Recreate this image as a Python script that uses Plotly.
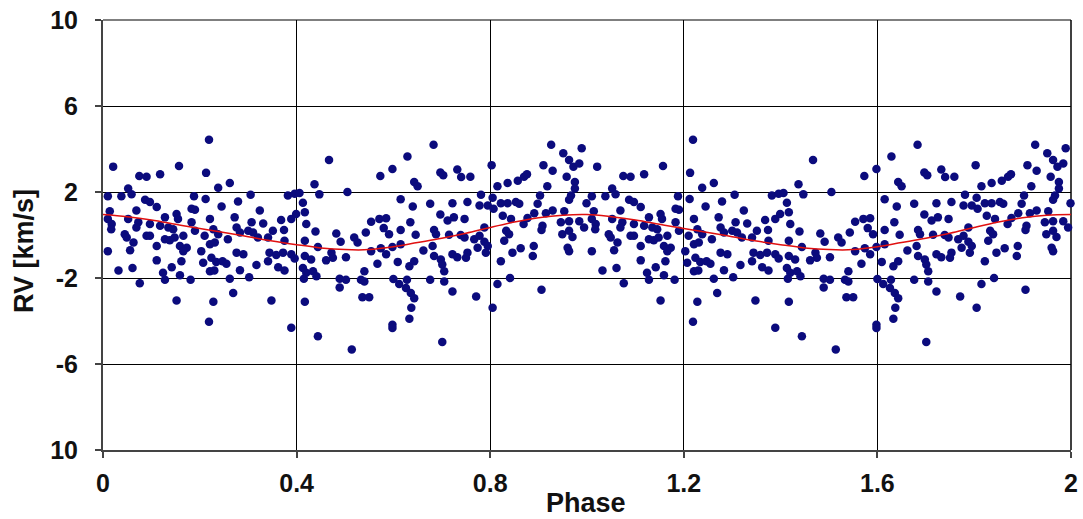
import plotly.graph_objects as go

# One cycle of phase-folded radial velocities (phase, RV km/s); plotted twice (phase and phase+1)
phase = [0.219,0.021,0.157,0.075,0.090,0.118,0.213,0.238,0.052,0.010,0.038,0.059,0.087,0.097,0.188,0.212,0.245,0.014,0.069,0.111,0.183,0.19,0.01,0.018,0.017,0.052,0.073,0.069,0.097,0.128,0.152,0.155,0.118,0.135,0.145,0.183,0.19,0.221,0.228,0.238,0.045,0.049,0.090,0.097,0.128,0.138,0.148,0.166,0.21,0.063,0.111,0.159,0.173,0.166,0.221,0.231,0.01,0.056,0.203,0.224,0.234,0.247,0.111,0.162,0.207,0.142,0.032,0.061,0.124,0.128,0.159,0.221,0.23,0.181,0.076,0.152,0.228,0.219,
         0.467,0.262,0.437,0.305,0.279,0.382,0.396,0.406,0.413,0.447,0.324,0.272,0.307,0.331,0.368,0.389,0.399,0.417,0.42,0.276,0.283,0.3,0.31,0.32,0.341,0.351,0.374,0.375,0.258,0.417,0.439,0.482,0.491,0.276,0.29,0.344,0.358,0.372,0.389,0.396,0.417,0.43,0.444,0.472,0.475,0.461,0.255,0.317,0.341,0.362,0.375,0.283,0.413,0.42,0.434,0.441,0.262,0.302,0.415,0.489,0.489,0.269,0.348,0.417,0.389,0.444,
         0.683,0.629,0.598,0.573,0.697,0.703,0.643,0.65,0.732,0.74,0.505,0.615,0.64,0.676,0.697,0.722,0.725,0.554,0.571,0.585,0.58,0.591,0.615,0.635,0.646,0.684,0.688,0.712,0.715,0.739,0.543,0.519,0.526,0.554,0.574,0.585,0.567,0.598,0.615,0.609,0.633,0.643,0.662,0.681,0.684,0.698,0.701,0.705,0.722,0.732,0.502,0.54,0.533,0.54,0.502,0.6,0.612,0.626,0.636,0.628,0.676,0.722,0.705,0.643,0.536,0.55,0.637,0.633,0.598,0.598,0.514,0.701,
         0.926,0.989,0.951,0.963,0.972,0.984,0.803,0.91,0.929,0.759,0.815,0.836,0.857,0.87,0.876,0.918,0.958,0.975,0.975,0.967,0.963,0.781,0.805,0.903,0.898,0.822,0.836,0.853,0.86,0.753,0.778,0.795,0.807,0.999,0.826,0.843,0.869,0.877,0.891,0.915,0.929,0.953,0.946,0.963,0.984,0.994,0.908,0.906,0.747,0.788,0.833,0.839,0.829,0.949,0.963,0.97,0.96,0.963,0.747,0.767,0.778,0.788,0.795,0.791,0.753,0.75,0.774,0.846,0.863,0.89,0.888,0.822,0.841,0.815,0.771,0.906,0.805]
rv = [4.43,3.18,3.21,2.74,2.71,2.83,2.89,2.2,2.16,1.8,1.8,1.9,1.64,1.53,1.8,1.67,1.33,1.1,1.14,1.3,1.22,1.17,0.75,0.51,0.27,0.75,0.59,0.35,0.51,0.82,0.98,0.75,0.43,0.35,0.27,0.59,0.2,0.75,0.27,0.04,0.04,-0.12,-0.04,-0.04,-0.2,-0.24,-0.12,-0.04,-0.04,-0.35,-0.51,-0.51,-0.59,-0.75,-0.43,-0.35,-0.75,-0.71,-0.75,-1.06,-1.25,-1.22,-1.18,-1.22,-1.29,-1.5,-1.65,-1.53,-1.76,-2.08,-1.87,-1.69,-1.65,-2.08,-2.24,-3.05,-3.1,-4.04,
      3.49,2.42,2.36,1.87,1.56,1.84,1.92,1.95,1.5,1.89,1.14,0.82,0.59,0.54,0.7,0.75,0.98,1.06,0.51,0.35,0.12,0.2,0.12,-0.12,-0.12,0.2,0.23,-0.27,-0.2,-0.27,0.16,0.07,-0.31,-0.82,-0.9,-0.82,-0.93,-0.82,-0.9,-1.09,-0.98,-1.14,-0.56,-0.82,-1.06,-1.18,-1.34,-1.4,-1.22,-1.5,-1.65,-1.64,-1.53,-1.76,-1.69,-1.92,-2.03,-1.97,-2.03,-2.03,-2.44,-2.7,-3.05,-3.1,-4.31,-4.71,
      4.2,3.65,3.07,2.74,2.91,2.78,2.47,2.27,3.05,2.7,2.0,1.66,1.33,1.45,0.95,1.48,0.82,0.62,0.75,0.78,0.32,0.04,0.23,0.59,0.01,0.23,0.04,0.67,0.01,0.0,0.12,-0.12,-0.35,-0.75,-0.62,-0.9,-1.34,-0.56,-0.43,-1.25,-1.45,-1.22,-0.72,-0.51,-0.98,-1.14,-1.37,-1.69,-0.9,-1.03,-1.03,-1.69,-2.08,-2.16,-2.08,-2.05,-2.28,-2.47,-2.7,-2.08,-2.08,-2.63,-2.16,-2.94,-2.9,-2.9,-3.38,-3.89,-4.18,-4.33,-5.33,-4.98,
      4.2,4.04,3.8,3.49,3.18,3.33,3.25,3.25,2.99,2.71,2.27,2.42,2.52,2.71,2.83,2.27,2.71,2.47,2.16,1.84,1.64,1.87,1.73,1.84,1.45,1.48,1.48,1.53,1.45,1.53,1.37,1.37,1.22,1.48,0.9,0.75,0.51,0.79,1.01,1.01,1.14,1.11,0.59,0.64,0.64,0.35,0.43,0.23,0.75,0.35,0.2,0.04,-0.27,0.04,0.2,-0.09,-0.59,-0.75,-0.12,-0.2,-0.04,-0.31,-0.51,-0.82,-0.82,-1.06,-0.59,-0.82,-0.62,-0.51,-0.98,-1.22,-2.0,-2.28,-2.86,-2.55,-3.38]

# Model curve
curve_phase = [0, 0.05, 0.1, 0.15, 0.2, 0.25, 0.3, 0.35, 0.4, 0.45, 0.5, 0.55, 0.6, 0.65, 0.7, 0.75, 0.8, 0.85, 0.9, 0.95, 1.0]
curve_rv = [0.95, 0.85, 0.7, 0.5, 0.3, 0.12, -0.08, -0.28, -0.45, -0.6, -0.68, -0.68, -0.55, -0.35, -0.15, 0.08, 0.35, 0.6, 0.8, 0.92, 0.95]

x_ticks = [0, 0.4, 0.8, 1.2, 1.6, 2.0]
x_tick_text = ["0", "0.4", "0.8", "1.2", "1.6", "2"]
y_ticks = [-10, -6, -2, 2, 6, 10]
y_tick_text = ["10", "-6", "-2", "2", "6", "10"]

xs = phase + [p + 1 for p in phase]
ys = rv + rv
cx = curve_phase + [p + 1 for p in curve_phase[1:]]
cy = curve_rv + curve_rv[1:]

FONT = "Liberation Sans, Arial, sans-serif"

fig = go.Figure()
fig.add_trace(go.Scatter(x=xs, y=ys, mode="markers",
                         marker=dict(size=8.5, color="#0b0b7d", line=dict(width=0)),
                         cliponaxis=False, showlegend=False))
fig.add_trace(go.Scatter(x=cx, y=cy, mode="lines", line=dict(color="#e01010", width=1.5, shape="spline"),
                         showlegend=False))

fig.update_layout(
    width=1083, height=519,
    margin=dict(l=103, r=12, t=20, b=69, autoexpand=False),
    paper_bgcolor="white", plot_bgcolor="white",
    font=dict(family=FONT, color="#111111"),
)
fig.update_xaxes(range=[0, 2], tickvals=x_ticks, ticktext=x_tick_text,
                 showgrid=True, gridcolor="black", gridwidth=1.2,
                 showline=True, linecolor="#444444", linewidth=2,
                 ticks="outside", ticklen=6, tickcolor="#444444", tickwidth=1.5,
                 tickfont=dict(size=25, family=FONT, weight="bold", color="#111111"),
                 ticklabelstandoff=4, ticklabeloverflow="allow",
                 zeroline=False, automargin=False)
fig.update_yaxes(range=[-10, 10], tickvals=y_ticks, ticktext=y_tick_text,
                 showgrid=True, gridcolor="black", gridwidth=1.2,
                 showline=True, linecolor="#444444", linewidth=2,
                 ticks="outside", ticklen=6, tickcolor="#444444", tickwidth=1.5,
                 tickfont=dict(size=25, family=FONT, weight="bold", color="#111111"),
                 ticklabelstandoff=12, ticklabeloverflow="allow",
                 zeroline=False, automargin=False)
# top and right frame lines (grid at range ends)
fig.add_shape(type="line", xref="paper", yref="paper", x0=0, x1=1, y0=1, y1=1,
              line=dict(color="black", width=1.2), layer="below")
fig.add_shape(type="line", xref="paper", yref="paper", x0=1, x1=1, y0=0, y1=1,
              line=dict(color="black", width=1.5), layer="below")
fig.add_annotation(text="Phase", xref="paper", yref="paper", x=0.499, y=-0.1233,
                   xanchor="center", yanchor="middle", showarrow=False,
                   font=dict(size=27, family=FONT, weight="bold", color="#111111"))
fig.add_annotation(text="RV [km/s]", xref="paper", yref="paper", x=-0.0816, y=0.4628,
                   xanchor="center", yanchor="middle", showarrow=False, textangle=-90,
                   font=dict(size=27, family=FONT, weight="bold", color="#111111"))

# remove the default page margin so the figure sits at the window's top-left corner
fig.write_html("out.html", config={"displayModeBar": False},
               post_script="document.body.style.margin='0px';")
